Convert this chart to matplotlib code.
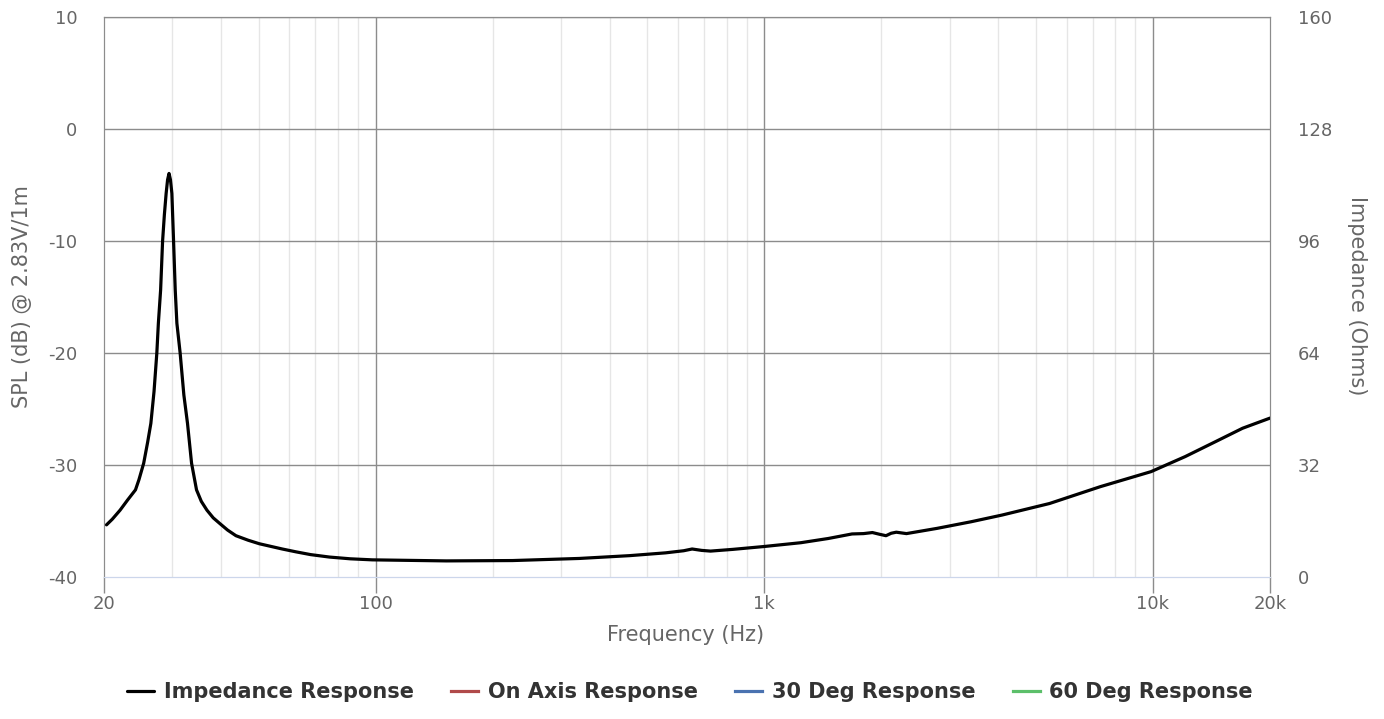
import numpy as np
import matplotlib
matplotlib.use("Agg")
import matplotlib.pyplot as plt
from matplotlib.ticker import FixedLocator, NullFormatter

plt.rcParams["axes.unicode_minus"] = False

# impedance curve (Hz, Ohms)
freq_hz = [20.3, 21.0, 22.0, 23.0, 24.1, 24.6, 25.3, 25.9, 26.4, 26.9, 27.35, 27.6,
           27.97, 28.3, 28.6, 28.9, 29.15, 29.4, 29.65, 29.9, 30.2, 30.5, 30.8, 31.4,
           32.1, 32.8, 33.6, 34.6, 35.6, 36.8, 38.2, 39.7, 41.6, 43.7, 47.0, 50.2,
           57.5, 62.3, 68, 76, 86, 98, 152,
           225, 334, 450, 557, 620, 652, 690, 727, 831, 996, 1242, 1460, 1681, 1800,
           1897, 1980, 2056, 2120, 2185, 2321, 2784, 3409, 4090, 5418, 7314, 9883,
           12100, 14500, 17000, 20000]
impedance = [14.9, 16.5, 19.1, 22.0, 24.9, 27.8, 32.5, 38.5, 43.9, 53.0, 64.0, 72.5,
             82.0, 96.0, 103.5, 109.6, 113.5, 115.3, 113.5, 109.6, 96.0, 82.0, 72.5, 64.0,
             52.0, 43.9, 32.5, 24.9, 21.6, 19.1, 16.9, 15.3, 13.4, 11.8, 10.5, 9.5,
             8.0, 7.2, 6.4, 5.7, 5.2, 4.9, 4.6,
             4.7, 5.3, 6.1, 6.9, 7.5, 8.0, 7.6, 7.4, 7.9, 8.7, 9.8, 11.0, 12.3, 12.4,
             12.7, 12.2, 11.8, 12.5, 12.8, 12.4, 13.9, 15.8, 17.7, 21.0, 25.8, 30.1,
             34.4, 38.7, 42.5, 45.4]

# legend series (no data drawn for these)
series_names = ["Impedance Response", "On Axis Response", "30 Deg Response", "60 Deg Response"]
series_colors = ["#000000", "#b04a4a", "#4a72b0", "#5cbf6a"]

spl_ticks = [-40, -30, -20, -10, 0, 10]
ohm_ticks = [0, 32, 64, 96, 128, 160]
x_major = [20, 100, 1000, 10000, 20000]
x_major_labels = ["20", "100", "1k", "10k", "20k"]
x_minor = [30, 40, 50, 60, 70, 80, 90, 200, 300, 400, 500, 600, 700, 800, 900,
           2000, 3000, 4000, 5000, 6000, 7000, 8000, 9000]

label_col = "#666666"
grid_col = "#8c8c8c"
minor_col = "#e6e6e6"

fig = plt.figure(figsize=(13.84, 7.19), dpi=100)
ax = fig.add_axes([104 / 1384, 1 - 577 / 719, (1270 - 104) / 1384, (577 - 17) / 719])
ax2 = ax.twinx()

ax.set_xscale("log")
ax.set_xlim(20, 20000)
ax.set_ylim(-40, 10)
ax2.set_ylim(0, 160)

# grid lines
for f in x_minor:
    ax.axvline(f, color=minor_col, lw=1, zorder=0)
for f in [100, 1000, 10000]:
    ax.axvline(f, color=grid_col, lw=1, zorder=1)
for v in spl_ticks[1:]:
    ax.axhline(v, color=grid_col, lw=1, zorder=1)

ax.xaxis.set_major_locator(FixedLocator(x_major))
ax.set_xticklabels(x_major_labels)
ax.xaxis.set_minor_locator(FixedLocator([]))
ax.xaxis.set_minor_formatter(NullFormatter())
ax.tick_params(axis="x", which="major", length=11.5, width=1, color=grid_col,
               labelsize=13, labelcolor=label_col, pad=1.5)

ax.set_yticks(spl_ticks)
ax.tick_params(axis="y", length=0, labelsize=13, labelcolor=label_col, pad=19)
ax2.set_yticks(ohm_ticks)
ax2.tick_params(axis="y", length=0, labelsize=13, labelcolor=label_col, pad=20)

for a in (ax, ax2):
    a.spines["left"].set_color(grid_col)
    a.spines["right"].set_color(grid_col)
    a.spines["top"].set_color(grid_col)
    a.spines["bottom"].set_color("#ccd6eb")
    a.spines["bottom"].set_zorder(3)

fig.text(686 / 1384, 1 - 635 / 719, "Frequency (Hz)", fontsize=15, color=label_col,
         ha="center", va="center")
fig.text(22 / 1384, 1 - 297 / 719, "SPL (dB) @ 2.83V/1m", fontsize=15, color=label_col,
         rotation=90, ha="center", va="center")
fig.text(1357 / 1384, 1 - 296 / 719, "Impedance (Ohms)", fontsize=15, color=label_col,
         rotation=270, ha="center", va="center")

line, = ax2.plot(freq_hz, impedance, color=series_colors[0], lw=2.3,
                 solid_joinstyle="round", solid_capstyle="round", zorder=5)
handles = [line]
for name, col in zip(series_names[1:], series_colors[1:]):
    h, = ax.plot([], [], color=col, lw=2.3)
    handles.append(h)

fig.legend(handles, series_names, loc="center", bbox_to_anchor=(690 / 1384, 1 - 692 / 719),
           ncol=4, frameon=False, handlelength=1.3, handletextpad=0.45, columnspacing=1.8,
           prop={"weight": "bold", "size": 15}, labelcolor="#333333")

fig.savefig("out.png", dpi=100)
